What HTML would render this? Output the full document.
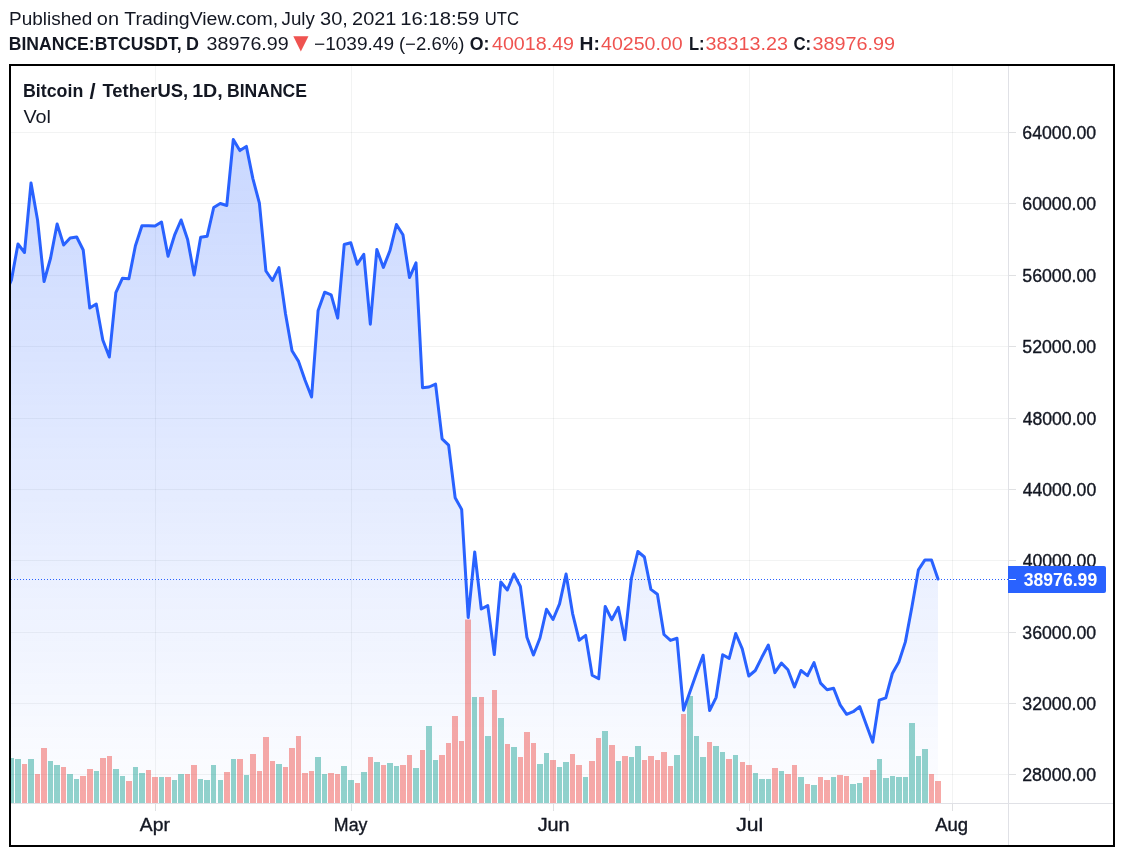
<!DOCTYPE html><html><head><meta charset="utf-8"><title>BTCUSDT chart</title><style>html,body{margin:0;padding:0;background:#fff;}body{width:1124px;height:856px;overflow:hidden;position:relative;}svg{position:absolute;left:0;top:0;display:block;will-change:transform;}text{font-family:'Liberation Sans', Arial, sans-serif;}</style></head><body>
<svg width="1124" height="856" viewBox="0 0 1124 856">
<defs><linearGradient id="fillg" gradientUnits="userSpaceOnUse" x1="0" y1="66" x2="0" y2="803"><stop offset="0" stop-color="#2962ff" stop-opacity="0.279"/><stop offset="1" stop-color="#2962ff" stop-opacity="0.0095"/></linearGradient><clipPath id="pane"><rect x="11" y="66" width="997" height="737"/></clipPath></defs>
<text x="9.06" y="25" font-size="18" font-weight="normal" fill="#131722" textLength="83.20" lengthAdjust="spacingAndGlyphs">Published</text>
<text x="96.82" y="25" font-size="18" font-weight="normal" fill="#131722" textLength="22.19" lengthAdjust="spacingAndGlyphs">on</text>
<text x="124.24" y="25" font-size="18" font-weight="normal" fill="#131722" textLength="153.92" lengthAdjust="spacingAndGlyphs">TradingView.com,</text>
<text x="281.53" y="25" font-size="18" font-weight="normal" fill="#131722" textLength="33.34" lengthAdjust="spacingAndGlyphs">July</text>
<text x="320.04" y="25" font-size="18" font-weight="normal" fill="#131722" textLength="27.85" lengthAdjust="spacingAndGlyphs">30,</text>
<text x="352.08" y="25" font-size="18" font-weight="normal" fill="#131722" textLength="44.34" lengthAdjust="spacingAndGlyphs">2021</text>
<text x="400.20" y="25" font-size="18" font-weight="normal" fill="#131722" textLength="79.05" lengthAdjust="spacingAndGlyphs">16:18:59</text>
<text x="484.68" y="25" font-size="18" font-weight="normal" fill="#131722" textLength="34.27" lengthAdjust="spacingAndGlyphs">UTC</text>
<text x="8.79" y="50" font-size="18" font-weight="bold" fill="#131722" textLength="172.74" lengthAdjust="spacingAndGlyphs">BINANCE:BTCUSDT,</text>
<text x="185.89" y="50" font-size="18" font-weight="bold" fill="#131722" textLength="12.92" lengthAdjust="spacingAndGlyphs">D</text>
<text x="206.63" y="50" font-size="18" font-weight="normal" fill="#131722" textLength="82.03" lengthAdjust="spacingAndGlyphs">38976.99</text>
<text x="314.05" y="50" font-size="18" font-weight="normal" fill="#131722" textLength="79.98" lengthAdjust="spacingAndGlyphs">−1039.49</text>
<text x="398.96" y="50" font-size="18" font-weight="normal" fill="#131722" textLength="65.36" lengthAdjust="spacingAndGlyphs">(−2.6%)</text>
<text x="469.76" y="50" font-size="18" font-weight="bold" fill="#131722" textLength="19.70" lengthAdjust="spacingAndGlyphs">O:</text>
<text x="492.00" y="50" font-size="18" font-weight="normal" fill="#ef5350" textLength="82.02" lengthAdjust="spacingAndGlyphs">40018.49</text>
<text x="579.58" y="50" font-size="18" font-weight="bold" fill="#131722" textLength="20.29" lengthAdjust="spacingAndGlyphs">H:</text>
<text x="601.00" y="50" font-size="18" font-weight="normal" fill="#ef5350" textLength="81.63" lengthAdjust="spacingAndGlyphs">40250.00</text>
<text x="688.98" y="50" font-size="18" font-weight="bold" fill="#131722" textLength="15.65" lengthAdjust="spacingAndGlyphs">L:</text>
<text x="705.62" y="50" font-size="18" font-weight="normal" fill="#ef5350" textLength="82.43" lengthAdjust="spacingAndGlyphs">38313.23</text>
<text x="793.42" y="50" font-size="18" font-weight="bold" fill="#131722" textLength="17.74" lengthAdjust="spacingAndGlyphs">C:</text>
<text x="812.46" y="50" font-size="18" font-weight="normal" fill="#ef5350" textLength="82.68" lengthAdjust="spacingAndGlyphs">38976.99</text>
<text x="23.00" y="97" font-size="18" font-weight="bold" fill="#131722" textLength="60.26" lengthAdjust="spacingAndGlyphs">Bitcoin</text>
<text x="89.4" y="98.5" font-size="22" font-weight="bold" fill="#131722">/</text>
<text x="102.47" y="97" font-size="18" font-weight="bold" fill="#131722" textLength="85.63" lengthAdjust="spacingAndGlyphs">TetherUS,</text>
<text x="192.17" y="97" font-size="18" font-weight="bold" fill="#131722" textLength="30.60" lengthAdjust="spacingAndGlyphs">1D,</text>
<text x="227.02" y="97" font-size="18" font-weight="bold" fill="#131722" textLength="79.99" lengthAdjust="spacingAndGlyphs">BINANCE</text>
<text x="23.44" y="123" font-size="18" font-weight="normal" fill="#131722" textLength="27.54" lengthAdjust="spacingAndGlyphs">Vol</text>
<text x="293.3" y="49" style="font-family:'DejaVu Sans', sans-serif" font-size="19.8" fill="#ef5350">▼</text>
<rect x="10" y="65" width="1104" height="781" fill="none" stroke="#000" stroke-width="2"/>
<g clip-path="url(#pane)">
<rect x="11" y="132" width="997" height="1" fill="rgba(42,46,57,0.06)"/>
<rect x="11" y="203" width="997" height="1" fill="rgba(42,46,57,0.06)"/>
<rect x="11" y="275" width="997" height="1" fill="rgba(42,46,57,0.06)"/>
<rect x="11" y="346" width="997" height="1" fill="rgba(42,46,57,0.06)"/>
<rect x="11" y="418" width="997" height="1" fill="rgba(42,46,57,0.06)"/>
<rect x="11" y="489" width="997" height="1" fill="rgba(42,46,57,0.06)"/>
<rect x="11" y="560" width="997" height="1" fill="rgba(42,46,57,0.06)"/>
<rect x="11" y="632" width="997" height="1" fill="rgba(42,46,57,0.06)"/>
<rect x="11" y="703" width="997" height="1" fill="rgba(42,46,57,0.06)"/>
<rect x="11" y="774" width="997" height="1" fill="rgba(42,46,57,0.06)"/>
<rect x="155" y="66" width="1" height="737" fill="rgba(42,46,57,0.06)"/>
<rect x="351" y="66" width="1" height="737" fill="rgba(42,46,57,0.06)"/>
<rect x="553" y="66" width="1" height="737" fill="rgba(42,46,57,0.06)"/>
<rect x="749" y="66" width="1" height="737" fill="rgba(42,46,57,0.06)"/>
<rect x="952" y="66" width="1" height="737" fill="rgba(42,46,57,0.06)"/>
<path d="M4.92,803 L4.92,295.00 L11.45,280.00 L17.97,244.00 L24.50,252.50 L31.02,183.00 L37.55,220.00 L44.07,281.50 L50.60,258.00 L57.12,224.00 L63.65,245.00 L70.17,238.00 L76.70,237.00 L83.22,250.00 L89.75,308.00 L96.27,304.00 L102.80,340.00 L109.32,357.00 L115.85,292.60 L122.38,278.30 L128.90,278.70 L135.42,245.70 L141.95,225.70 L148.47,225.70 L155.00,226.10 L161.52,222.00 L168.05,256.20 L174.57,235.20 L181.10,220.00 L187.62,239.40 L194.15,275.00 L200.67,237.30 L207.20,236.20 L213.72,207.50 L220.25,203.50 L226.77,205.50 L233.30,139.50 L239.82,150.60 L246.35,146.40 L252.88,178.60 L259.40,203.20 L265.92,271.00 L272.45,280.50 L278.97,267.60 L285.50,313.70 L292.02,350.80 L298.55,361.40 L305.07,380.30 L311.60,397.00 L318.12,310.40 L324.65,292.20 L331.17,294.90 L337.70,318.10 L344.23,244.50 L350.75,242.70 L357.27,264.20 L363.80,254.30 L370.32,324.20 L376.85,249.50 L383.38,267.40 L389.90,250.80 L396.42,224.50 L402.95,234.80 L409.48,277.60 L416.00,262.80 L422.52,387.70 L429.05,387.00 L435.57,384.10 L442.10,438.80 L448.62,445.10 L455.15,497.80 L461.67,509.40 L468.20,617.50 L474.72,552.00 L481.25,609.00 L487.77,605.60 L494.30,654.50 L500.82,582.00 L507.35,590.00 L513.88,574.00 L520.40,586.50 L526.92,637.20 L533.45,655.00 L539.97,638.00 L546.50,609.30 L553.02,619.50 L559.55,603.90 L566.08,574.00 L572.60,613.60 L579.12,640.20 L585.65,635.40 L592.17,675.20 L598.70,678.70 L605.22,606.50 L611.75,619.70 L618.27,607.40 L624.80,639.80 L631.33,578.70 L637.85,551.50 L644.38,557.00 L650.90,589.40 L657.42,594.20 L663.95,634.50 L670.47,640.40 L677.00,638.30 L683.52,710.20 L690.05,691.50 L696.58,673.00 L703.10,655.20 L709.62,710.60 L716.15,697.30 L722.67,654.70 L729.20,658.40 L735.73,633.50 L742.25,648.90 L748.77,676.00 L755.30,670.50 L761.83,657.30 L768.35,645.00 L774.88,672.60 L781.40,663.10 L787.92,669.70 L794.45,687.00 L800.98,670.50 L807.50,675.70 L814.02,662.60 L820.55,683.10 L827.08,689.70 L833.60,688.30 L840.12,704.90 L846.65,714.30 L853.17,711.70 L859.70,706.60 L866.23,724.50 L872.75,742.20 L879.27,700.20 L885.80,697.90 L892.33,673.50 L898.85,662.00 L905.38,641.90 L911.90,607.00 L918.42,569.80 L924.95,559.90 L931.48,559.90 L938.00,579.00 L938.00,803 Z" fill="url(#fillg)"/>
<rect x="2" y="790.0" width="6" height="13.0" fill="rgba(38,166,154,0.5)"/>
<rect x="9" y="758.0" width="5" height="45.0" fill="rgba(38,166,154,0.5)"/>
<rect x="15" y="759.0" width="6" height="44.0" fill="rgba(38,166,154,0.5)"/>
<rect x="22" y="764.0" width="5" height="39.0" fill="rgba(239,83,80,0.5)"/>
<rect x="28" y="759.0" width="6" height="44.0" fill="rgba(38,166,154,0.5)"/>
<rect x="35" y="774.0" width="5" height="29.0" fill="rgba(239,83,80,0.5)"/>
<rect x="41" y="748.0" width="6" height="55.0" fill="rgba(239,83,80,0.5)"/>
<rect x="48" y="761.0" width="5" height="42.0" fill="rgba(38,166,154,0.5)"/>
<rect x="54" y="765.0" width="6" height="38.0" fill="rgba(38,166,154,0.5)"/>
<rect x="61" y="767.0" width="5" height="36.0" fill="rgba(239,83,80,0.5)"/>
<rect x="67" y="774.0" width="6" height="29.0" fill="rgba(38,166,154,0.5)"/>
<rect x="74" y="779.0" width="5" height="24.0" fill="rgba(38,166,154,0.5)"/>
<rect x="80" y="776.0" width="6" height="27.0" fill="rgba(239,83,80,0.5)"/>
<rect x="87" y="769.0" width="6" height="34.0" fill="rgba(239,83,80,0.5)"/>
<rect x="94" y="771.0" width="5" height="32.0" fill="rgba(38,166,154,0.5)"/>
<rect x="100" y="758.0" width="6" height="45.0" fill="rgba(239,83,80,0.5)"/>
<rect x="107" y="756.0" width="5" height="47.0" fill="rgba(239,83,80,0.5)"/>
<rect x="113" y="769.0" width="6" height="34.0" fill="rgba(38,166,154,0.5)"/>
<rect x="120" y="776.0" width="5" height="27.0" fill="rgba(38,166,154,0.5)"/>
<rect x="126" y="781.0" width="6" height="22.0" fill="rgba(239,83,80,0.5)"/>
<rect x="133" y="767.0" width="5" height="36.0" fill="rgba(38,166,154,0.5)"/>
<rect x="139" y="773.0" width="6" height="30.0" fill="rgba(38,166,154,0.5)"/>
<rect x="146" y="770.0" width="5" height="33.0" fill="rgba(239,83,80,0.5)"/>
<rect x="152" y="777.0" width="6" height="26.0" fill="rgba(239,83,80,0.5)"/>
<rect x="159" y="777.0" width="5" height="26.0" fill="rgba(38,166,154,0.5)"/>
<rect x="165" y="777.0" width="6" height="26.0" fill="rgba(239,83,80,0.5)"/>
<rect x="172" y="780.0" width="5" height="23.0" fill="rgba(38,166,154,0.5)"/>
<rect x="178" y="774.0" width="6" height="29.0" fill="rgba(38,166,154,0.5)"/>
<rect x="185" y="774.0" width="5" height="29.0" fill="rgba(239,83,80,0.5)"/>
<rect x="191" y="765.0" width="6" height="38.0" fill="rgba(239,83,80,0.5)"/>
<rect x="198" y="779.0" width="5" height="24.0" fill="rgba(38,166,154,0.5)"/>
<rect x="204" y="780.0" width="6" height="23.0" fill="rgba(38,166,154,0.5)"/>
<rect x="211" y="765.0" width="5" height="38.0" fill="rgba(38,166,154,0.5)"/>
<rect x="218" y="780.0" width="5" height="23.0" fill="rgba(38,166,154,0.5)"/>
<rect x="224" y="772.0" width="6" height="31.0" fill="rgba(239,83,80,0.5)"/>
<rect x="231" y="759.0" width="5" height="44.0" fill="rgba(38,166,154,0.5)"/>
<rect x="237" y="759.0" width="6" height="44.0" fill="rgba(239,83,80,0.5)"/>
<rect x="244" y="775.0" width="5" height="28.0" fill="rgba(38,166,154,0.5)"/>
<rect x="250" y="754.0" width="6" height="49.0" fill="rgba(239,83,80,0.5)"/>
<rect x="257" y="771.0" width="5" height="32.0" fill="rgba(239,83,80,0.5)"/>
<rect x="263" y="737.0" width="6" height="66.0" fill="rgba(239,83,80,0.5)"/>
<rect x="270" y="761.0" width="5" height="42.0" fill="rgba(239,83,80,0.5)"/>
<rect x="276" y="764.0" width="6" height="39.0" fill="rgba(38,166,154,0.5)"/>
<rect x="283" y="767.0" width="5" height="36.0" fill="rgba(239,83,80,0.5)"/>
<rect x="289" y="748.0" width="6" height="55.0" fill="rgba(239,83,80,0.5)"/>
<rect x="296" y="736.0" width="5" height="67.0" fill="rgba(239,83,80,0.5)"/>
<rect x="302" y="773.0" width="6" height="30.0" fill="rgba(239,83,80,0.5)"/>
<rect x="309" y="771.0" width="5" height="32.0" fill="rgba(239,83,80,0.5)"/>
<rect x="315" y="757.0" width="6" height="46.0" fill="rgba(38,166,154,0.5)"/>
<rect x="322" y="774.0" width="5" height="29.0" fill="rgba(38,166,154,0.5)"/>
<rect x="328" y="773.0" width="6" height="30.0" fill="rgba(239,83,80,0.5)"/>
<rect x="335" y="774.0" width="5" height="29.0" fill="rgba(239,83,80,0.5)"/>
<rect x="341" y="766.0" width="6" height="37.0" fill="rgba(38,166,154,0.5)"/>
<rect x="348" y="780.0" width="6" height="23.0" fill="rgba(38,166,154,0.5)"/>
<rect x="355" y="783.0" width="5" height="20.0" fill="rgba(239,83,80,0.5)"/>
<rect x="361" y="772.0" width="6" height="31.0" fill="rgba(38,166,154,0.5)"/>
<rect x="368" y="757.0" width="5" height="46.0" fill="rgba(239,83,80,0.5)"/>
<rect x="374" y="762.0" width="6" height="41.0" fill="rgba(38,166,154,0.5)"/>
<rect x="381" y="765.0" width="5" height="38.0" fill="rgba(239,83,80,0.5)"/>
<rect x="387" y="763.0" width="6" height="40.0" fill="rgba(38,166,154,0.5)"/>
<rect x="394" y="766.0" width="5" height="37.0" fill="rgba(38,166,154,0.5)"/>
<rect x="400" y="765.0" width="6" height="38.0" fill="rgba(239,83,80,0.5)"/>
<rect x="407" y="755.0" width="5" height="48.0" fill="rgba(239,83,80,0.5)"/>
<rect x="413" y="768.0" width="6" height="35.0" fill="rgba(38,166,154,0.5)"/>
<rect x="420" y="750.0" width="5" height="53.0" fill="rgba(239,83,80,0.5)"/>
<rect x="426" y="726.0" width="6" height="77.0" fill="rgba(38,166,154,0.5)"/>
<rect x="433" y="760.0" width="5" height="43.0" fill="rgba(38,166,154,0.5)"/>
<rect x="439" y="755.0" width="6" height="48.0" fill="rgba(239,83,80,0.5)"/>
<rect x="446" y="743.0" width="5" height="60.0" fill="rgba(239,83,80,0.5)"/>
<rect x="452" y="716.0" width="6" height="87.0" fill="rgba(239,83,80,0.5)"/>
<rect x="459" y="741.0" width="5" height="62.0" fill="rgba(239,83,80,0.5)"/>
<rect x="465" y="619.5" width="6" height="183.5" fill="rgba(239,83,80,0.5)"/>
<rect x="472" y="697.0" width="5" height="106.0" fill="rgba(38,166,154,0.5)"/>
<rect x="479" y="697.0" width="5" height="106.0" fill="rgba(239,83,80,0.5)"/>
<rect x="485" y="736.0" width="6" height="67.0" fill="rgba(38,166,154,0.5)"/>
<rect x="492" y="690.0" width="5" height="113.0" fill="rgba(239,83,80,0.5)"/>
<rect x="498" y="718.0" width="6" height="85.0" fill="rgba(38,166,154,0.5)"/>
<rect x="505" y="744.0" width="5" height="59.0" fill="rgba(239,83,80,0.5)"/>
<rect x="511" y="747.0" width="6" height="56.0" fill="rgba(38,166,154,0.5)"/>
<rect x="518" y="757.0" width="5" height="46.0" fill="rgba(239,83,80,0.5)"/>
<rect x="524" y="732.0" width="6" height="71.0" fill="rgba(239,83,80,0.5)"/>
<rect x="531" y="743.0" width="5" height="60.0" fill="rgba(239,83,80,0.5)"/>
<rect x="537" y="764.0" width="6" height="39.0" fill="rgba(38,166,154,0.5)"/>
<rect x="544" y="753.0" width="5" height="50.0" fill="rgba(38,166,154,0.5)"/>
<rect x="550" y="760.0" width="6" height="43.0" fill="rgba(239,83,80,0.5)"/>
<rect x="557" y="767.0" width="5" height="36.0" fill="rgba(38,166,154,0.5)"/>
<rect x="563" y="762.0" width="6" height="41.0" fill="rgba(38,166,154,0.5)"/>
<rect x="570" y="754.0" width="5" height="49.0" fill="rgba(239,83,80,0.5)"/>
<rect x="576" y="765.0" width="6" height="38.0" fill="rgba(239,83,80,0.5)"/>
<rect x="583" y="777.0" width="5" height="26.0" fill="rgba(38,166,154,0.5)"/>
<rect x="589" y="761.0" width="6" height="42.0" fill="rgba(239,83,80,0.5)"/>
<rect x="596" y="738.0" width="5" height="65.0" fill="rgba(239,83,80,0.5)"/>
<rect x="602" y="731.0" width="6" height="72.0" fill="rgba(38,166,154,0.5)"/>
<rect x="609" y="745.0" width="6" height="58.0" fill="rgba(239,83,80,0.5)"/>
<rect x="616" y="761.0" width="5" height="42.0" fill="rgba(38,166,154,0.5)"/>
<rect x="622" y="756.0" width="6" height="47.0" fill="rgba(239,83,80,0.5)"/>
<rect x="629" y="757.0" width="5" height="46.0" fill="rgba(38,166,154,0.5)"/>
<rect x="635" y="746.0" width="6" height="57.0" fill="rgba(38,166,154,0.5)"/>
<rect x="642" y="760.0" width="5" height="43.0" fill="rgba(239,83,80,0.5)"/>
<rect x="648" y="756.0" width="6" height="47.0" fill="rgba(239,83,80,0.5)"/>
<rect x="655" y="760.0" width="5" height="43.0" fill="rgba(239,83,80,0.5)"/>
<rect x="661" y="752.0" width="6" height="51.0" fill="rgba(239,83,80,0.5)"/>
<rect x="668" y="766.0" width="5" height="37.0" fill="rgba(239,83,80,0.5)"/>
<rect x="674" y="755.0" width="6" height="48.0" fill="rgba(38,166,154,0.5)"/>
<rect x="681" y="714.0" width="5" height="89.0" fill="rgba(239,83,80,0.5)"/>
<rect x="687" y="696.0" width="6" height="107.0" fill="rgba(38,166,154,0.5)"/>
<rect x="694" y="736.0" width="5" height="67.0" fill="rgba(38,166,154,0.5)"/>
<rect x="700" y="757.0" width="6" height="46.0" fill="rgba(38,166,154,0.5)"/>
<rect x="707" y="742.0" width="5" height="61.0" fill="rgba(239,83,80,0.5)"/>
<rect x="713" y="746.0" width="6" height="57.0" fill="rgba(38,166,154,0.5)"/>
<rect x="720" y="752.0" width="5" height="51.0" fill="rgba(38,166,154,0.5)"/>
<rect x="726" y="759.0" width="6" height="44.0" fill="rgba(239,83,80,0.5)"/>
<rect x="733" y="755.0" width="5" height="48.0" fill="rgba(38,166,154,0.5)"/>
<rect x="740" y="762.0" width="5" height="41.0" fill="rgba(239,83,80,0.5)"/>
<rect x="746" y="765.0" width="6" height="38.0" fill="rgba(239,83,80,0.5)"/>
<rect x="753" y="773.0" width="5" height="30.0" fill="rgba(38,166,154,0.5)"/>
<rect x="759" y="779.0" width="6" height="24.0" fill="rgba(38,166,154,0.5)"/>
<rect x="766" y="779.0" width="5" height="24.0" fill="rgba(38,166,154,0.5)"/>
<rect x="772" y="768.0" width="6" height="35.0" fill="rgba(239,83,80,0.5)"/>
<rect x="779" y="771.0" width="5" height="32.0" fill="rgba(38,166,154,0.5)"/>
<rect x="785" y="774.0" width="6" height="29.0" fill="rgba(239,83,80,0.5)"/>
<rect x="792" y="765.0" width="5" height="38.0" fill="rgba(239,83,80,0.5)"/>
<rect x="798" y="777.0" width="6" height="26.0" fill="rgba(38,166,154,0.5)"/>
<rect x="805" y="784.0" width="5" height="19.0" fill="rgba(239,83,80,0.5)"/>
<rect x="811" y="785.0" width="6" height="18.0" fill="rgba(38,166,154,0.5)"/>
<rect x="818" y="777.0" width="5" height="26.0" fill="rgba(239,83,80,0.5)"/>
<rect x="824" y="780.0" width="6" height="23.0" fill="rgba(239,83,80,0.5)"/>
<rect x="831" y="777.0" width="5" height="26.0" fill="rgba(38,166,154,0.5)"/>
<rect x="837" y="775.0" width="6" height="28.0" fill="rgba(239,83,80,0.5)"/>
<rect x="844" y="776.0" width="5" height="27.0" fill="rgba(239,83,80,0.5)"/>
<rect x="850" y="784.0" width="6" height="19.0" fill="rgba(38,166,154,0.5)"/>
<rect x="857" y="783.0" width="5" height="20.0" fill="rgba(38,166,154,0.5)"/>
<rect x="863" y="777.0" width="6" height="26.0" fill="rgba(239,83,80,0.5)"/>
<rect x="870" y="770.0" width="6" height="33.0" fill="rgba(239,83,80,0.5)"/>
<rect x="877" y="759.0" width="5" height="44.0" fill="rgba(38,166,154,0.5)"/>
<rect x="883" y="778.0" width="6" height="25.0" fill="rgba(38,166,154,0.5)"/>
<rect x="890" y="776.0" width="5" height="27.0" fill="rgba(38,166,154,0.5)"/>
<rect x="896" y="777.0" width="6" height="26.0" fill="rgba(38,166,154,0.5)"/>
<rect x="903" y="777.0" width="5" height="26.0" fill="rgba(38,166,154,0.5)"/>
<rect x="909" y="723.0" width="6" height="80.0" fill="rgba(38,166,154,0.5)"/>
<rect x="916" y="756.0" width="5" height="47.0" fill="rgba(38,166,154,0.5)"/>
<rect x="922" y="749.0" width="6" height="54.0" fill="rgba(38,166,154,0.5)"/>
<rect x="929" y="774.0" width="5" height="29.0" fill="rgba(239,83,80,0.5)"/>
<rect x="935" y="781.0" width="6" height="22.0" fill="rgba(239,83,80,0.5)"/>
<path d="M4.92,295.00 L11.45,280.00 L17.97,244.00 L24.50,252.50 L31.02,183.00 L37.55,220.00 L44.07,281.50 L50.60,258.00 L57.12,224.00 L63.65,245.00 L70.17,238.00 L76.70,237.00 L83.22,250.00 L89.75,308.00 L96.27,304.00 L102.80,340.00 L109.32,357.00 L115.85,292.60 L122.38,278.30 L128.90,278.70 L135.42,245.70 L141.95,225.70 L148.47,225.70 L155.00,226.10 L161.52,222.00 L168.05,256.20 L174.57,235.20 L181.10,220.00 L187.62,239.40 L194.15,275.00 L200.67,237.30 L207.20,236.20 L213.72,207.50 L220.25,203.50 L226.77,205.50 L233.30,139.50 L239.82,150.60 L246.35,146.40 L252.88,178.60 L259.40,203.20 L265.92,271.00 L272.45,280.50 L278.97,267.60 L285.50,313.70 L292.02,350.80 L298.55,361.40 L305.07,380.30 L311.60,397.00 L318.12,310.40 L324.65,292.20 L331.17,294.90 L337.70,318.10 L344.23,244.50 L350.75,242.70 L357.27,264.20 L363.80,254.30 L370.32,324.20 L376.85,249.50 L383.38,267.40 L389.90,250.80 L396.42,224.50 L402.95,234.80 L409.48,277.60 L416.00,262.80 L422.52,387.70 L429.05,387.00 L435.57,384.10 L442.10,438.80 L448.62,445.10 L455.15,497.80 L461.67,509.40 L468.20,617.50 L474.72,552.00 L481.25,609.00 L487.77,605.60 L494.30,654.50 L500.82,582.00 L507.35,590.00 L513.88,574.00 L520.40,586.50 L526.92,637.20 L533.45,655.00 L539.97,638.00 L546.50,609.30 L553.02,619.50 L559.55,603.90 L566.08,574.00 L572.60,613.60 L579.12,640.20 L585.65,635.40 L592.17,675.20 L598.70,678.70 L605.22,606.50 L611.75,619.70 L618.27,607.40 L624.80,639.80 L631.33,578.70 L637.85,551.50 L644.38,557.00 L650.90,589.40 L657.42,594.20 L663.95,634.50 L670.47,640.40 L677.00,638.30 L683.52,710.20 L690.05,691.50 L696.58,673.00 L703.10,655.20 L709.62,710.60 L716.15,697.30 L722.67,654.70 L729.20,658.40 L735.73,633.50 L742.25,648.90 L748.77,676.00 L755.30,670.50 L761.83,657.30 L768.35,645.00 L774.88,672.60 L781.40,663.10 L787.92,669.70 L794.45,687.00 L800.98,670.50 L807.50,675.70 L814.02,662.60 L820.55,683.10 L827.08,689.70 L833.60,688.30 L840.12,704.90 L846.65,714.30 L853.17,711.70 L859.70,706.60 L866.23,724.50 L872.75,742.20 L879.27,700.20 L885.80,697.90 L892.33,673.50 L898.85,662.00 L905.38,641.90 L911.90,607.00 L918.42,569.80 L924.95,559.90 L931.48,559.90 L938.00,579.00" fill="none" stroke="#2962ff" stroke-width="3" stroke-linejoin="round" stroke-linecap="round"/>
<line x1="11" y1="579.5" x2="1008" y2="579.5" stroke="#2962ff" stroke-width="1" stroke-dasharray="1 2"/>
</g>
<rect x="1008" y="66" width="1" height="779" fill="#e0e1e6"/>
<rect x="11" y="803" width="1102" height="1" fill="#e0e1e6"/>
<rect x="1009" y="132" width="7" height="1" fill="#dfe0e2"/>
<rect x="1009" y="203" width="7" height="1" fill="#dfe0e2"/>
<rect x="1009" y="275" width="7" height="1" fill="#dfe0e2"/>
<rect x="1009" y="346" width="7" height="1" fill="#dfe0e2"/>
<rect x="1009" y="418" width="7" height="1" fill="#dfe0e2"/>
<rect x="1009" y="489" width="7" height="1" fill="#dfe0e2"/>
<rect x="1009" y="560" width="7" height="1" fill="#dfe0e2"/>
<rect x="1009" y="632" width="7" height="1" fill="#dfe0e2"/>
<rect x="1009" y="703" width="7" height="1" fill="#dfe0e2"/>
<rect x="1009" y="774" width="7" height="1" fill="#dfe0e2"/>
<text x="1022.29" y="138.6" font-size="17.5" font-weight="normal" fill="#131722" textLength="73.85" lengthAdjust="spacingAndGlyphs" stroke="#131722" stroke-width="0.35">64000.00</text>
<text x="1022.29" y="209.6" font-size="17.5" font-weight="normal" fill="#131722" textLength="73.85" lengthAdjust="spacingAndGlyphs" stroke="#131722" stroke-width="0.35">60000.00</text>
<text x="1022.31" y="281.6" font-size="17.5" font-weight="normal" fill="#131722" textLength="73.82" lengthAdjust="spacingAndGlyphs" stroke="#131722" stroke-width="0.35">56000.00</text>
<text x="1022.31" y="352.6" font-size="17.5" font-weight="normal" fill="#131722" textLength="73.82" lengthAdjust="spacingAndGlyphs" stroke="#131722" stroke-width="0.35">52000.00</text>
<text x="1022.65" y="424.6" font-size="17.5" font-weight="normal" fill="#131722" textLength="73.56" lengthAdjust="spacingAndGlyphs" stroke="#131722" stroke-width="0.35">48000.00</text>
<text x="1022.65" y="495.6" font-size="17.5" font-weight="normal" fill="#131722" textLength="73.56" lengthAdjust="spacingAndGlyphs" stroke="#131722" stroke-width="0.35">44000.00</text>
<text x="1022.65" y="566.6" font-size="17.5" font-weight="normal" fill="#131722" textLength="73.56" lengthAdjust="spacingAndGlyphs" stroke="#131722" stroke-width="0.35">40000.00</text>
<text x="1022.29" y="638.6" font-size="17.5" font-weight="normal" fill="#131722" textLength="73.85" lengthAdjust="spacingAndGlyphs" stroke="#131722" stroke-width="0.35">36000.00</text>
<text x="1022.29" y="709.6" font-size="17.5" font-weight="normal" fill="#131722" textLength="73.85" lengthAdjust="spacingAndGlyphs" stroke="#131722" stroke-width="0.35">32000.00</text>
<text x="1022.13" y="780.6" font-size="17.5" font-weight="normal" fill="#131722" textLength="73.98" lengthAdjust="spacingAndGlyphs" stroke="#131722" stroke-width="0.35">28000.00</text>
<rect x="155" y="804" width="1" height="7" fill="#dfe0e2"/>
<rect x="351" y="804" width="1" height="7" fill="#dfe0e2"/>
<rect x="553" y="804" width="1" height="7" fill="#dfe0e2"/>
<rect x="749" y="804" width="1" height="7" fill="#dfe0e2"/>
<rect x="952" y="804" width="1" height="7" fill="#dfe0e2"/>
<text x="139.84" y="831" font-size="17.5" font-weight="normal" fill="#131722" textLength="30.04" lengthAdjust="spacingAndGlyphs" stroke="#131722" stroke-width="0.35">Apr</text>
<text x="333.88" y="831" font-size="17.5" font-weight="normal" fill="#131722" textLength="33.55" lengthAdjust="spacingAndGlyphs" stroke="#131722" stroke-width="0.35">May</text>
<text x="537.67" y="831" font-size="17.5" font-weight="normal" fill="#131722" textLength="31.97" lengthAdjust="spacingAndGlyphs" stroke="#131722" stroke-width="0.35">Jun</text>
<text x="736.19" y="831" font-size="17.5" font-weight="normal" fill="#131722" textLength="27.01" lengthAdjust="spacingAndGlyphs" stroke="#131722" stroke-width="0.35">Jul</text>
<text x="935.17" y="831" font-size="17.5" font-weight="normal" fill="#131722" textLength="33.01" lengthAdjust="spacingAndGlyphs" stroke="#131722" stroke-width="0.35">Aug</text>
<path d="M1008,566 H1104 Q1106,566 1106,568 V591 Q1106,593 1104,593 H1008 Z" fill="#2962ff"/>
<rect x="1009" y="579" width="7" height="1" fill="#fff"/>
<text x="1023.72" y="586" font-size="17.5" font-weight="bold" fill="#ffffff" textLength="73.49" lengthAdjust="spacingAndGlyphs">38976.99</text>
</svg></body></html>
